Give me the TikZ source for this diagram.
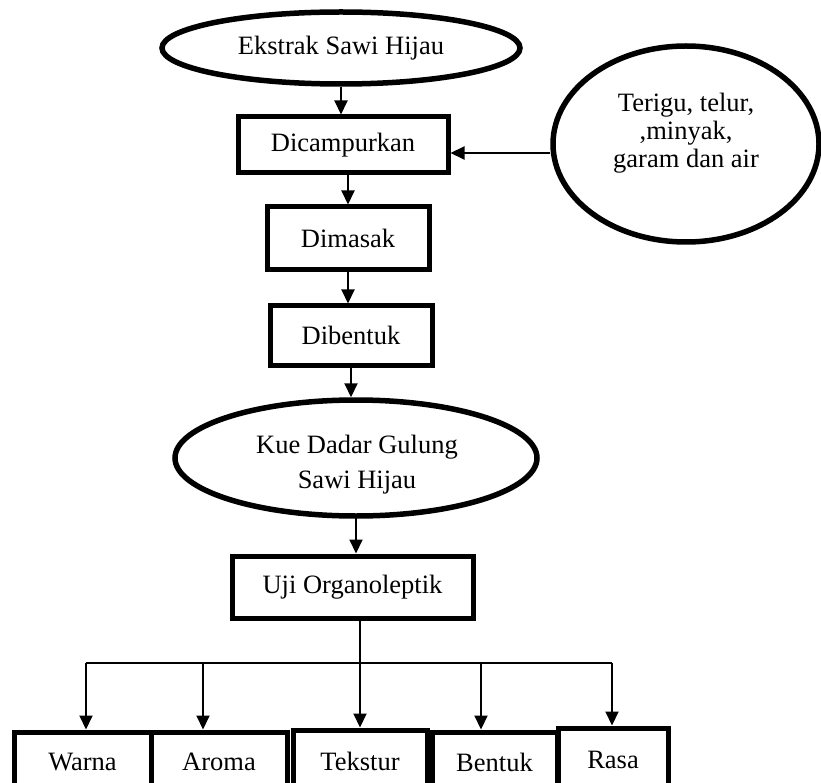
\documentclass[tikz,border=0pt]{standalone}
\usepackage{fontspec}
\setmainfont{Liberation Serif}
\usetikzlibrary{shapes.geometric,arrows.meta}

\begin{document}
\begin{tikzpicture}[
  x=1pt,y=-1pt,
  every node/.style={font=\fontsize{26.5}{28}\selectfont,inner sep=0pt},
  boxes/.style={rectangle,draw,line width=5pt,minimum width=#1,align=center},
  oval/.style={ellipse,draw,line width=5.5pt,align=center},
  txt/.style={align=center},
  arr/.style={line width=2pt,-{Triangle[width=13pt,length=14pt]}},
  bus/.style={line width=2pt},
]
\useasboundingbox (0,0) rectangle (821,783);
\clip (0,0) rectangle (821,783);

% main line
\node (ekstrak) [oval,minimum width=358pt,minimum height=72pt] at (341,48) {Ekstrak Sawi Hijau};
\node (dicampur) [boxes=210pt,minimum height=56pt] at (343,145) {Dicampurkan};
\node (terigu) [oval,minimum width=266pt,minimum height=196pt] at (686,144) {};
\node (terigutxt) [txt] at (686,133) {Terigu, telur,\\ ,minyak,\\ garam dan air};
\node (dimasak) [boxes=162pt,minimum height=63pt] at (348,238.5) {Dimasak};
\node (dibentuk) [boxes=162pt,minimum height=59pt] at (351,335.5) {Dibentuk};
\node (kue) [oval,minimum width=362pt,minimum height=116pt] at (356,458) {};
\node (kuetxt) [txt] at (357,465) {Kue Dadar Gulung\\[7pt] Sawi Hijau};
\node (uji) [boxes=241pt,minimum height=62pt] at (352.5,587) {Uji Organoleptik};

% parameters
\node (warna) [boxes=137pt,minimum height=60pt] at (82.5,762) {Warna};
\node (aroma) [boxes=136pt,minimum height=60pt] at (219,762) {Aroma};
\node (tekstur) [boxes=134pt,minimum height=62pt] at (360,761) {Tekstur};
\node (bentuk) [boxes=125pt,minimum height=60pt] at (494.5,762) {Bentuk};
\node (rasa) [boxes=110pt,minimum height=64pt] at (613,760) {Rasa};

\draw[arr] (ekstrak.south) -- (ekstrak.south |- dicampur.north);
\draw[arr] (terigu.west |- 0,153) -- (dicampur.east |- 0,153);
\draw[arr] (dimasak.north |- dicampur.south) -- (dimasak.north);
\draw[arr] (dimasak.south) -- (dimasak.south |- dibentuk.north);
\draw[arr] (dibentuk.south) -- (dibentuk.south |- kue.north);
\draw[arr] (kue.south) -- (kue.south |- uji.north);
\draw[arr] (tekstur.north |- uji.south) -- (tekstur.north);

% branches
\coordinate (b1) at (86,663);
\coordinate (b2) at (203,663);
\coordinate (b4) at (481,663);
\coordinate (b5) at (612,663);
\draw[bus] (b1) -- (b5);
\draw[arr] (b1) -- (b1 |- warna.north);
\draw[arr] (b2) -- (b2 |- aroma.north);
\draw[arr] (b4) -- (b4 |- bentuk.north);
\draw[arr] (b5) -- (b5 |- rasa.north);
\end{tikzpicture}
\end{document}
